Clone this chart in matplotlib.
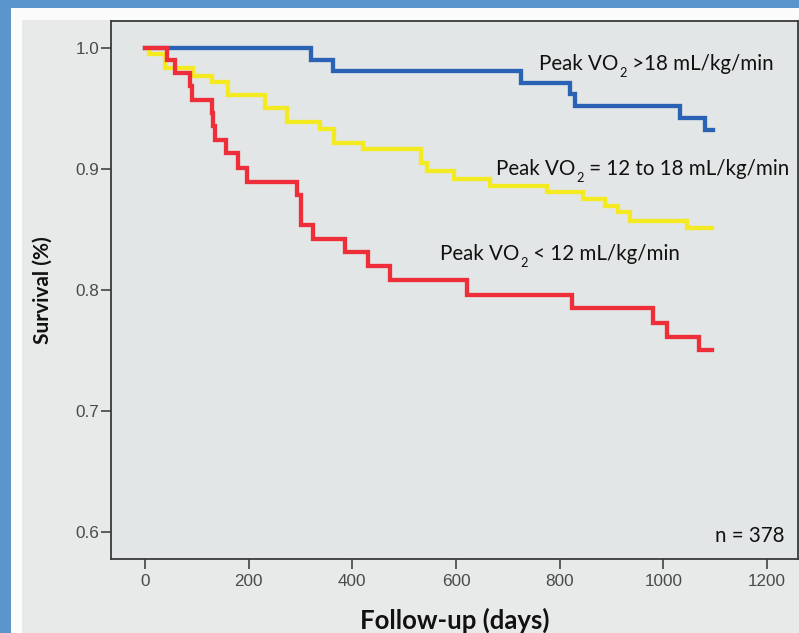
import matplotlib
matplotlib.use("Agg")
import matplotlib.pyplot as plt
from matplotlib.patches import Rectangle

# ---------------- data ----------------
blue_t = [0, 321, 363, 725, 820, 829, 1032, 1080, 1095]
blue_s = [1.0, 0.990, 0.981, 0.971, 0.962, 0.952, 0.942, 0.932, 0.932]

yellow_t = [0, 8, 39, 93, 129, 160, 231, 274, 337, 364, 420, 532, 544, 596,
            665, 775, 845, 887, 912, 935, 1045, 1093]
yellow_s = [1.0, 0.995, 0.983, 0.977, 0.972, 0.961, 0.950, 0.939, 0.933, 0.921,
            0.916, 0.905, 0.898, 0.892, 0.886, 0.881, 0.875, 0.869, 0.864,
            0.857, 0.851, 0.851]

red_t = [0, 42, 58, 87, 91, 129, 131, 135, 156, 179, 197, 293, 301, 324, 386,
         430, 473, 621, 823, 980, 1007, 1068, 1093]
red_s = [1.0, 0.990, 0.979, 0.968, 0.957, 0.946, 0.935, 0.924, 0.913, 0.901,
         0.889, 0.878, 0.854, 0.842, 0.831, 0.820, 0.808, 0.796, 0.785, 0.773,
         0.761, 0.750, 0.750]

x_ticks = [0, 200, 400, 600, 800, 1000, 1200]
y_ticks = [0.6, 0.7, 0.8, 0.9, 1.0]
y_ticklabels = ["0.6", "0.7", "0.8", "0.9", "1.0"]

# series labels: (prefix, subscript, suffix)
label_hi = ("Peak VO", "2", " >18 mL/kg/min")
label_mid = ("Peak VO", "2", " = 12 to 18 mL/kg/min")
label_lo = ("Peak VO", "2", " < 12 mL/kg/min")
n_text = "n = 378"
xlabel = "Follow-up (days)"
ylabel = "Survival (%)"

# ---------------- figure ----------------
W, H = 799, 633
fig = plt.figure(figsize=(W / 100, H / 100), dpi=100)
fig.patch.set_facecolor("#5A95CC")

# white inner frame and gray panel (figure decoration)
fig.add_artist(Rectangle((11 / W, 0), 1, 1 - 8 / H, transform=fig.transFigure,
                         facecolor="#FBFBFB", edgecolor="none", zorder=0))
fig.add_artist(Rectangle((22 / W, 0), 1, 1 - 20 / H, transform=fig.transFigure,
                         facecolor="#E8E9E9", edgecolor="none", zorder=0))

ax = fig.add_axes([111 / W, 1 - 559 / H, (798 - 111) / W, (559 - 21) / H])
ax.set_facecolor("#E3E6E6")

lw = 3.1
ax.step(blue_t, blue_s, where="post", color="#2A62B6", lw=lw, solid_joinstyle="miter")
ax.step(yellow_t, yellow_s, where="post", color="#F4EA22", lw=lw, solid_joinstyle="miter")
ax.step(red_t, red_s, where="post", color="#EE2F3A", lw=lw, solid_joinstyle="miter")

ax.set_xlim(-65.6, 1259.8)
ax.set_ylim(0.5777, 1.0221)

ax.set_xticks(x_ticks)
ax.set_xticklabels([str(v) for v in x_ticks])
ax.set_yticks(y_ticks)
ax.set_yticklabels(y_ticklabels)

for lab in ax.get_xticklabels() + ax.get_yticklabels():
    lab.set_fontfamily("Liberation Sans")
    lab.set_fontsize(12.3)
    lab.set_color("#4A4A4A")
ax.tick_params(axis="both", direction="out", length=7, width=1.2, color="#444444")
ax.tick_params(axis="y", pad=1.5)
ax.tick_params(axis="x", pad=4)

for sp in ax.spines.values():
    sp.set_color("#3A3A3A")
    sp.set_linewidth(1.3)

FS = 14.8
txt = dict(family="Lato", size=FS, color="#111111")


def sub_label(x, y, parts):
    pre, sub, post = parts
    t1 = ax.text(x, y, pre, ha="left", va="baseline", **txt)
    t2 = ax.annotate(sub, xy=(1, y), xycoords=(t1, "data"),
                     xytext=(0.5, -5), textcoords="offset points",
                     ha="left", va="baseline", family="Lato", size=FS * 0.62,
                     color="#111111")
    ax.annotate(post, xy=(1, y), xycoords=(t2, "data"),
                xytext=(0, 0), textcoords="offset points",
                ha="left", va="baseline", **txt)


sub_label(760, 0.9816, label_hi)
sub_label(678, 0.8949, label_mid)
sub_label(569, 0.8247, label_lo)
ax.text(1233, 0.592, n_text, ha="right", va="baseline", **txt)

ax.set_xlabel(xlabel, family="Lato", weight="bold", size=18.5, color="#111111",
              labelpad=13)
ax.set_ylabel(ylabel, family="Lato", weight="bold", size=15, color="#111111",
              labelpad=16)

fig.savefig("out.png", dpi=100, facecolor=fig.get_facecolor())
